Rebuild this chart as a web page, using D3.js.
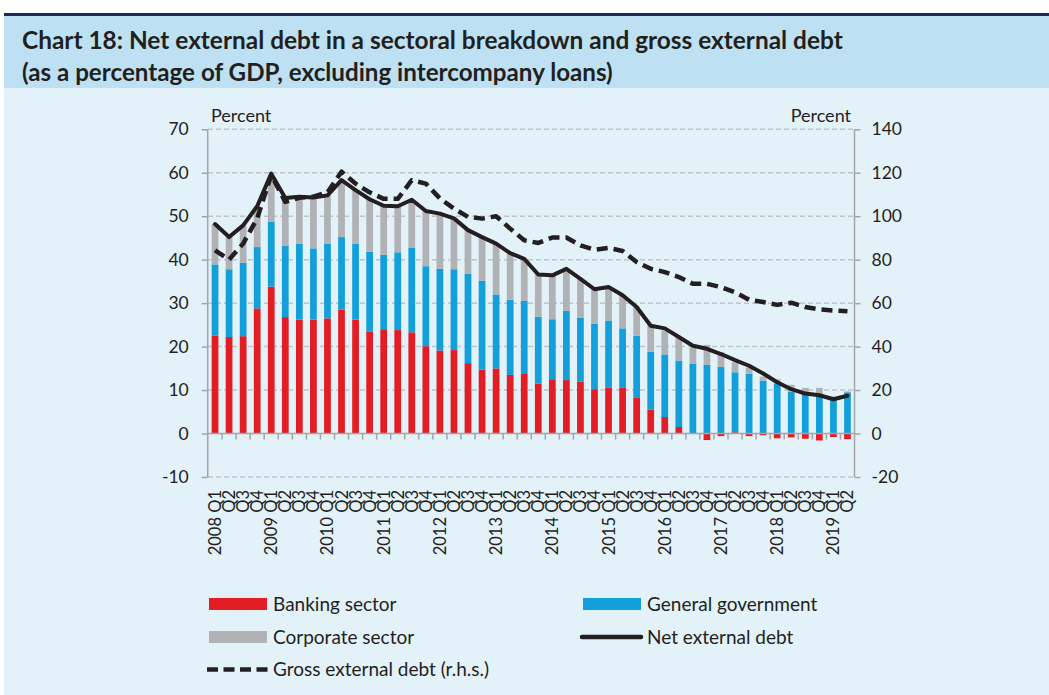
<!DOCTYPE html>
<html><head><meta charset="utf-8">
<script src="https://d3js.org/d3.v7.min.js"></script>
<style>
html,body{margin:0;padding:0;background:#fff;}
svg{display:block;}
</style></head>
<body>
<svg id="chart" width="1049" height="695"></svg>
<script>
const quarters = ["2008 Q1","Q2","Q3","Q4","2009 Q1","Q2","Q3","Q4","2010 Q1","Q2","Q3","Q4",
"2011 Q1","Q2","Q3","Q4","2012 Q1","Q2","Q3","Q4","2013 Q1","Q2","Q3","Q4",
"2014 Q1","Q2","Q3","Q4","2015 Q1","Q2","Q3","Q4","2016 Q1","Q2","Q3","Q4",
"2017 Q1","Q2","Q3","Q4","2018 Q1","Q2","Q3","Q4","2019 Q1","Q2"];
const banking = [22.5,22.2,22.4,28.8,33.8,26.8,26.2,26.2,26.5,28.5,26.2,23.5,24.0,23.8,23.3,20.1,
19.1,19.2,16.2,14.7,15.0,13.5,13.7,11.5,12.5,12.3,11.9,10.2,10.5,10.5,8.2,5.5,3.8,1.5,0,-1.5,
-0.6,0.3,-0.6,-0.4,-1.1,-0.9,-1.2,-1.6,-0.8,-1.3];
const government = [16.4,15.6,16.9,14.1,14.9,16.4,17.5,16.4,17.2,16.7,17.5,18.3,17.1,17.9,19.5,18.4,
18.8,18.6,20.6,20.5,17.0,17.3,16.8,15.4,13.8,15.9,14.8,15.1,15.5,13.7,14.3,13.3,14.4,15.3,16.1,15.8,
15.3,13.8,13.8,12.2,11.4,9.6,9.1,8.7,7.9,9.5];
const corporate = [9.3,7.4,8.6,9.4,10.4,11.0,10.8,11.7,11.1,12.6,12.3,12.1,11.3,10.6,11.0,12.7,
12.7,11.7,10.0,10.0,11.7,10.7,9.7,9.7,10.1,9.7,8.9,7.9,7.7,7.6,6.6,6.2,5.5,5.4,3.7,4.6,
3.4,2.3,1.4,0.9,1.1,1.6,1.4,1.8,0.6,0.2];
const netDebt = [48.2,45.2,47.9,52.3,59.8,54.2,54.5,54.3,54.8,58.3,56.0,53.9,52.4,52.3,53.8,51.2,
50.6,49.5,46.8,45.2,43.7,41.5,40.2,36.6,36.4,37.9,35.6,33.2,33.7,31.8,29.1,24.8,24.2,22.2,20.2,19.5,
18.3,16.9,15.6,13.8,11.8,10.2,9.2,8.8,7.9,8.7];
const grossDebt = [84.3,80.0,87.4,99.0,119.0,106.6,108.5,109.0,111.0,120.5,115.0,111.0,108.0,108.0,116.6,115.0,
108.2,103.5,99.7,98.9,100.0,94.3,88.9,87.7,90.2,90.2,86.6,84.6,85.4,84.0,78.9,75.8,74.3,72.0,68.9,68.9,
67.4,65.0,61.5,60.5,59.2,60.2,58.2,57.1,56.6,56.3];
const leftTicks = [-10,0,10,20,30,40,50,60,70];
const rightTicks = [-20,0,20,40,60,80,100,120,140];
const titleLines = ["Chart 18: Net external debt in a sectoral breakdown and gross external debt",
"(as a percentage of GDP, excluding intercompany loans)"];
const seriesNames = ["Banking sector","General government","Corporate sector","Net external debt","Gross external debt (r.h.s.)"];

const C = {red:"#e31d24", blue:"#139fd9", gray:"#b1b2b5", ink:"#231f20", bg:"#e3f1f8", band:"#bde1f3", navy:"#1f2a55", grid:"#c2c4c6", axis:"#a3a5a8"};
const FONT = "Lato, 'Open Sans', sans-serif";

const svg = d3.select("#chart");
svg.append("rect").attr("x",0).attr("y",0).attr("width",1049).attr("height",695).attr("fill","#fff");
svg.append("rect").attr("x",4).attr("y",16).attr("width",1045).attr("height",679).attr("fill",C.bg);
svg.append("rect").attr("x",4).attr("y",16).attr("width",1045).attr("height",72).attr("fill",C.band);
svg.append("rect").attr("x",4).attr("y",13).attr("width",1045).attr("height",3).attr("fill",C.navy);

// Title
const titleTargets = [821, 591];
titleLines.forEach((t,i)=>{
  const tx = svg.append("text").attr("x",22).attr("y",i===0?49:81)
    .attr("font-family","'Liberation Sans Narrow', 'Arial Narrow', Lato, sans-serif")
    .attr("font-weight","bold").attr("font-size",24).attr("fill",C.ink).text(t);
  const w = tx.node().getComputedTextLength();
  if (w > 0) tx.attr("font-size", 24*titleTargets[i]/w);
});

const idx = d3.range(quarters.length);
const x = d3.scaleBand().domain(idx).range([208,854.5]).paddingInner(0.52).paddingOuter(0.26);
const yL = d3.scaleLinear().domain([-10,70]).range([477,129.3]);
const yR = d3.scaleLinear().domain([-20,140]).range([477,129.3]);

// grid
const g = svg.append("g");
g.selectAll("line.grid").data(leftTicks.filter(d=>d!==0)).join("line")
  .attr("x1",208).attr("x2",854.5).attr("y1",d=>yL(d)).attr("y2",d=>yL(d))
  .attr("stroke",C.grid).attr("stroke-width",1.5).attr("stroke-dasharray","5,3");

// stacked bars
const rows = idx.map(i=>({i, banking:banking[i], government:government[i], corporate:corporate[i]}));
const keys = ["banking","government","corporate"];
const colors = {banking:C.red, government:C.blue, corporate:C.gray};
const stack = d3.stack().keys(keys).offset(d3.stackOffsetDiverging)(rows);
stack.forEach(s=>{
  g.append("g").selectAll("rect").data(s).join("rect")
    .attr("x",d=>x(d.data.i)).attr("width",x.bandwidth())
    .attr("y",d=>yL(Math.max(d[0],d[1]))).attr("height",d=>Math.abs(yL(d[0])-yL(d[1])))
    .attr("fill",colors[s.key]);
});

// zero line & x ticks
g.append("line").attr("x1",208).attr("x2",854.5).attr("y1",yL(0)).attr("y2",yL(0))
  .attr("stroke",C.axis).attr("stroke-width",1.5);
const bounds = idx.slice(1).map(i=>x(i) - x.step()*x.paddingInner()/2);
g.selectAll("line.xt").data(bounds).join("line")
  .attr("x1",d=>d).attr("x2",d=>d).attr("y1",yL(0)).attr("y2",yL(0)+6)
  .attr("stroke",C.axis).attr("stroke-width",1.5);

// left axis
const axL = svg.append("g").attr("transform","translate(207.7,0)")
  .call(d3.axisLeft(yL).tickValues(leftTicks).tickFormat(d=>String(d)).tickSize(6).tickPadding(13));
axL.select(".domain").attr("stroke",C.axis).attr("stroke-width",1.5).attr("d","M0,"+yL(70)+"V"+yL(-10));
axL.selectAll(".tick line").attr("stroke",C.axis).attr("stroke-width",1.5);
axL.selectAll("text").attr("font-family",FONT).attr("font-size",17.5).attr("fill",C.ink);

// right axis
const axR = svg.append("g").attr("transform","translate(854.5,0)")
  .call(d3.axisRight(yR).tickValues(rightTicks).tickFormat(d=>String(d)).tickSize(6).tickPadding(11));
axR.select(".domain").attr("stroke",C.axis).attr("stroke-width",1.5).attr("d","M0,"+yR(140)+"V"+yR(-20));
axR.selectAll(".tick line").attr("stroke",C.axis).attr("stroke-width",1.5);
axR.selectAll("text").attr("font-family",FONT).attr("font-size",17.5).attr("fill",C.ink);

svg.append("text").attr("x",211).attr("y",122).attr("font-family",FONT).attr("font-size",18).attr("fill",C.ink).text("Percent");
svg.append("text").attr("x",851).attr("y",122).attr("text-anchor","end").attr("font-family",FONT).attr("font-size",18).attr("fill",C.ink).text("Percent");

// x labels
svg.append("g").selectAll("text").data(idx).join("text")
  .attr("transform",i=>`translate(${x(i)+x.bandwidth()/2+6},490) rotate(-90)`)
  .attr("text-anchor","end").attr("font-family",FONT).attr("font-size",16.5).attr("fill",C.ink).text(i=>quarters[i]);

// lines
const cx = i=>x(i)+x.bandwidth()/2;
svg.append("path").datum(grossDebt).attr("fill","none").attr("stroke",C.ink).attr("stroke-width",4.5)
  .attr("stroke-dasharray","11,6").attr("stroke-linejoin","round")
  .attr("d", d3.line().x((d,i)=>cx(i)).y(d=>yR(d)));
svg.append("path").datum(netDebt).attr("fill","none").attr("stroke",C.ink).attr("stroke-width",4)
  .attr("stroke-linejoin","round").attr("stroke-linecap","round")
  .attr("d", d3.line().x((d,i)=>cx(i)).y(d=>yL(d)));

// legend
const leg = svg.append("g").attr("font-family",FONT).attr("font-size",19).attr("fill",C.ink);
const legItems = [
  {name:seriesNames[0], type:"rect", color:C.red, x:209, y:604},
  {name:seriesNames[1], type:"rect", color:C.blue, x:583, y:604},
  {name:seriesNames[2], type:"rect", color:C.gray, x:209, y:637},
  {name:seriesNames[3], type:"line", color:C.ink, x:583, y:637},
  {name:seriesNames[4], type:"dash", color:C.ink, x:207, y:669.5}
];
legItems.forEach(it=>{
  if (it.type==="rect") leg.append("rect").attr("x",it.x).attr("y",it.y-6).attr("width",58).attr("height",12).attr("fill",it.color);
  else if (it.type==="line") leg.append("line").attr("x1",it.x-1).attr("x2",it.x+58).attr("y1",it.y).attr("y2",it.y)
     .attr("stroke",it.color).attr("stroke-width",4.5).attr("stroke-linecap","round");
  else leg.append("line").attr("x1",it.x).attr("x2",it.x+61).attr("y1",it.y).attr("y2",it.y)
     .attr("stroke",it.color).attr("stroke-width",4.5).attr("stroke-dasharray","11,5.5").attr("stroke-linecap","butt");
  leg.append("text").attr("x",it.type==="dash"?273:it.x+64).attr("y",it.y).attr("dy","0.35em").text(it.name);
});
</script>
</body></html>
